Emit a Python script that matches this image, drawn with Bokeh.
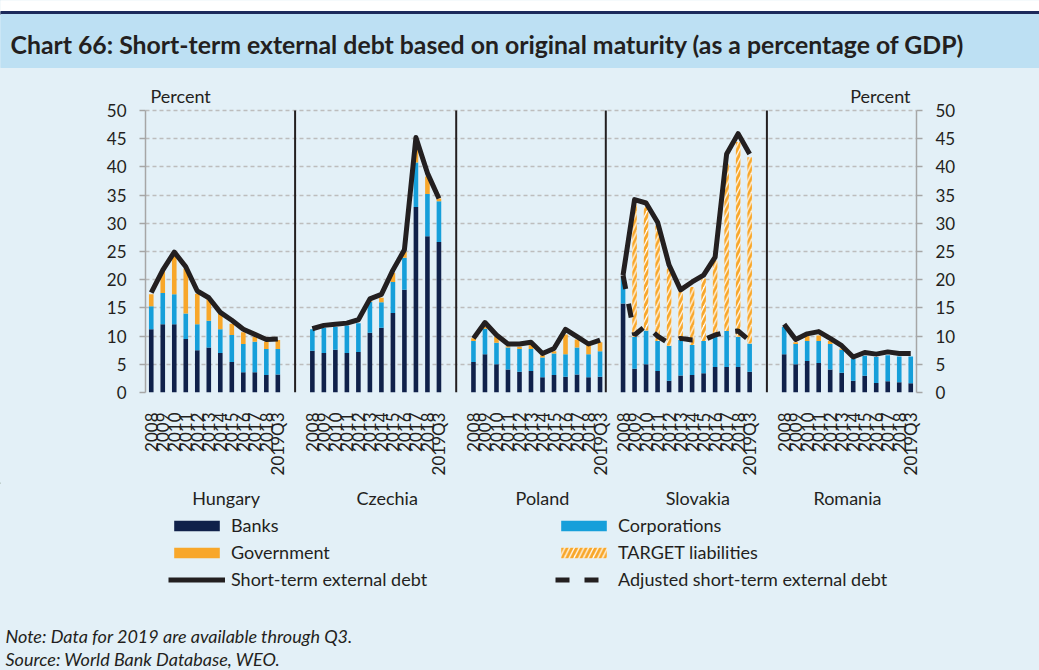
import math
from bokeh.plotting import figure
from bokeh.models import (ColumnDataSource, Range1d, LinearAxis, FixedTicker,
                          Legend, LegendItem)
from bokeh.layouts import column
from bokeh.embed import file_html
from bokeh.resources import INLINE
from bokeh.core.properties import value
from bokeh.transform import stack

# ---------------- data (percent of GDP) ----------------
countries = ["Hungary", "Czechia", "Poland", "Slovakia", "Romania"]
periods = ["2008", "2009", "2010", "2011", "2012", "2013", "2014", "2015",
           "2016", "2017", "2018", "2019Q3"]

banks = [
    [11.2, 12.1, 12.1, 9.5, 7.5, 8.0, 7.0, 5.4, 3.6, 3.6, 3.1, 3.2],        # Hungary
    [7.4, 7.0, 7.6, 7.0, 7.2, 10.6, 11.5, 14.1, 18.2, 32.9, 27.7, 26.7],    # Czechia
    [5.4, 6.8, 5.0, 4.1, 3.7, 3.8, 2.7, 3.1, 2.8, 3.2, 2.7, 2.8],           # Poland
    [15.8, 4.2, 5.0, 3.8, 2.1, 3.0, 3.1, 3.4, 4.5, 4.5, 4.5, 3.7],          # Slovakia
    [6.8, 5.0, 5.6, 5.25, 4.1, 3.5, 2.1, 2.95, 1.7, 2.0, 1.8, 1.65],        # Romania
]
corporations = [
    [4.1, 5.55, 5.3, 4.5, 4.6, 4.7, 4.2, 4.8, 5.0, 5.4, 4.6, 4.5],
    [3.8, 4.5, 4.0, 4.9, 5.1, 5.5, 4.5, 5.5, 5.7, 7.9, 7.5, 7.2],
    [3.75, 4.5, 3.8, 3.9, 4.0, 3.9, 3.5, 3.8, 4.0, 4.8, 4.1, 4.5],
    [4.7, 5.7, 6.0, 5.35, 6.2, 6.3, 5.3, 5.75, 5.4, 6.4, 5.4, 5.0],
    [4.8, 3.6, 3.55, 3.9, 4.5, 4.1, 3.9, 3.55, 4.6, 4.6, 4.6, 4.75],
]
government = [
    [2.1, 4.05, 6.9, 8.0, 5.4, 3.9, 2.7, 2.0, 2.1, 0.9, 1.3, 1.6],
    [0.0, 0.0, 0.0, 0.0, 0.0, 0.4, 0.8, 1.6, 1.0, 3.2, 3.1, 0.5],
    [0.45, 0.3, 1.1, 0.2, 0.4, 0.7, 0.4, 0.4, 3.5, 1.4, 1.6, 1.6],
    [0.0, 0.0, 0.0, 0.0, 0.0, 0.0, 0.0, 0.0, 0.0, 0.0, 0.0, 0.0],
    [0.0, 0.3, 0.85, 0.95, 0.55, 0.2, 0.0, 0.0, 0.0, 0.0, 0.0, 0.0],
]
target_liabilities = [
    [0.0] * 12,
    [0.0] * 12,
    [0.0] * 12,
    [0.0, 23.6, 21.9, 20.45, 13.7, 8.8, 10.3, 11.05, 13.5, 29.7, 34.5, 33.0],
    [0.0] * 12,
]
short_term_debt = [
    [17.7, 21.7, 24.9, 22.3, 18.0, 16.8, 14.2, 12.8, 11.2, 10.3, 9.4, 9.5],
    [11.3, 11.9, 12.1, 12.3, 12.9, 16.6, 17.4, 21.7, 25.3, 45.2, 38.9, 34.4],
    [9.6, 12.4, 10.2, 8.6, 8.6, 8.9, 6.9, 7.8, 11.2, 9.9, 8.6, 9.3],
    [20.8, 34.2, 33.6, 30.2, 22.6, 18.2, 19.6, 20.8, 24.0, 42.3, 45.9, 42.3],
    [12.1, 9.4, 10.4, 10.8, 9.6, 8.3, 6.3, 7.1, 6.8, 7.2, 6.9, 6.9],
]
adjusted_slovakia = [20.8, 10.2, 11.9, 10.0, 8.7, 9.6, 9.3, 9.3, 10.2, 10.7, 10.9, 9.2]

y_ticks = [0, 5, 10, 15, 20, 25, 30, 35, 40, 45, 50]

title_text = "Chart 66: Short-term external debt based on original maturity (as a percentage of GDP)"
note_text = "Note: Data for 2019 are available through Q3."
source_text = "Source: World Bank Database, WEO."
unit_text = "Percent"

# ---------------- layout / style constants ----------------
group_start = [0, 14, 28, 41, 55]          # slot where each country's bars begin
name_offset = [6.5, 6.5, 6.0, 6.5, 5.5]    # country name position inside group
FONT = "Lato"
TXT = "#231f20"
BG = "#e3f0f7"
BANNER = "#bde0f3"
NAVY = "#1c2a5a"
C_BANKS = "#10214a"
C_CORP = "#169fda"
C_GOV = "#f8a72a"
AXIS_GRAY = "#a6a6a6"
W = 1039
H_HEAD, H_MAIN, H_FOOT = 78, 404, 188
FRAME_L, FRAME_R = 145, 916                # frame edges on the page
FRAME_50, FRAME_0 = 110, 392               # page y of the 50 and 0 gridlines
X0, X1 = -0.5, 66.5
Y_TOP = y_ticks[-1] + (FRAME_50 - H_HEAD) * (y_ticks[-1] - y_ticks[0]) / (FRAME_0 - FRAME_50)
PX_PER_Y = (FRAME_0 - FRAME_50) / (y_ticks[-1] - y_ticks[0])
BG_CSS = {"background-color": BG}

def page_x(xdata):
    return FRAME_L + (xdata - X0) * (FRAME_R - FRAME_L) / (X1 - X0)

def data_x(px):
    return X0 + (px - FRAME_L) * (X1 - X0) / (FRAME_R - FRAME_L)

def blank_fig(h):
    f = figure(width=W, height=h, x_range=Range1d(0, W), y_range=Range1d(h, 0),
               toolbar_location=None, output_backend="svg", min_border=0,
               x_axis_location=None, y_axis_location=None, title=None,
               background_fill_color=BG, border_fill_color=BG, outline_line_color=None,
               frame_align=False, styles=BG_CSS)
    f.grid.visible = False
    return f

bank_style = dict(fill_color=C_BANKS, line_color=None)
corp_style = dict(fill_color=C_CORP, line_color=None)
gov_style = dict(fill_color=C_GOV, line_color=None)
target_style = dict(fill_color="white", line_color=None, hatch_pattern="/",
                    hatch_color=C_GOV, hatch_weight=3, hatch_scale=9.5)
line_style = dict(line_color=TXT, line_width=5, line_join="round")
adj_style = dict(line_color=TXT, line_width=5, line_dash="14 15")

# ---------------- header (title banner) ----------------
header = blank_fig(H_HEAD)
header.quad(left=[0], right=[W], top=[0], bottom=[11], color="white")
header.quad(left=[0], right=[W], top=[11], bottom=[14], color=NAVY)
header.quad(left=[0], right=[W], top=[14], bottom=[67], color=BANNER)
header.text(x=[10], y=[43.5], text=[title_text],
            text_font=value(FONT), text_font_style="bold", text_font_size="24.8px",
            text_baseline="middle", text_align="left", text_color=TXT)

# ---------------- main chart ----------------
p = figure(width=W, height=H_MAIN, x_range=Range1d(X0, X1), y_range=Range1d(0, Y_TOP),
           toolbar_location=None, output_backend="svg", title=None, frame_align=False,
           min_border_left=FRAME_L, min_border_right=W - FRAME_R,
           min_border_top=0, min_border_bottom=H_HEAD + H_MAIN - FRAME_0,
           background_fill_color=BG, border_fill_color=BG, outline_line_color=None,
           styles=BG_CSS)

xs, b_col, c_col, g_col, t_col, lab = [], [], [], [], [], {}
for i, c in enumerate(countries):
    for j, per in enumerate(periods):
        x = group_start[i] + j
        xs.append(x)
        b_col.append(banks[i][j])
        c_col.append(corporations[i][j])
        g_col.append(government[i][j])
        t_col.append(target_liabilities[i][j])
        lab[x] = per

src = ColumnDataSource(dict(x=xs, banks=b_col, corp=c_col, gov=g_col, target=t_col))

p.xgrid.visible = False
p.ygrid.grid_line_color = "#bdbdbd"
p.ygrid.grid_line_dash = "4 3"
p.ygrid.grid_line_width = 1.3

seps = [g - 1.5 for g in group_start[1:]]
p.segment(x0=seps, y0=[y_ticks[0]] * len(seps), x1=seps, y1=[y_ticks[-1]] * len(seps),
          line_color=TXT, line_width=2)

BW = 0.4
p.vbar(x="x", bottom=0, top=stack("banks"), width=BW, source=src, **bank_style)
p.vbar(x="x", bottom=stack("banks"), top=stack("banks", "corp"), width=BW, source=src,
       **corp_style)
p.vbar(x="x", bottom=stack("banks", "corp"), top=stack("banks", "corp", "gov"), width=BW,
       source=src, **gov_style)
p.vbar(x="x", bottom=stack("banks", "corp", "gov"),
       top=stack("banks", "corp", "gov", "target"), width=BW, source=src, **target_style)

line_src = ColumnDataSource(dict(
    xs=[[group_start[i] + j for j in range(len(periods))] for i in range(len(countries))],
    ys=short_term_debt))
p.multi_line(xs="xs", ys="ys", source=line_src, **line_style)
sk = countries.index("Slovakia")
p.line(x=[group_start[sk] + j for j in range(len(periods))], y=adjusted_slovakia, **adj_style)

# unit labels above both value axes
unit_y = y_ticks[-1] + (FRAME_50 - 95.5) / PX_PER_Y
p.text(x=[data_x(150), data_x(910)], y=[unit_y, unit_y], text=[unit_text, unit_text],
       text_align=["left", "right"], text_baseline="middle",
       text_font=value(FONT), text_font_size="18px", text_color=TXT)

tick_args = dict(axis_line_color=AXIS_GRAY, axis_line_width=1.5,
                 major_tick_line_color=AXIS_GRAY, major_tick_line_width=1.5,
                 major_tick_out=6, major_tick_in=0, minor_tick_line_color=None,
                 major_label_text_font=FONT, major_label_text_font_size="17px",
                 major_label_text_color=TXT, major_label_standoff=13,
                 bounds=(y_ticks[0], y_ticks[-1]))
ya = p.yaxis[0]
ya.ticker = FixedTicker(ticks=y_ticks)
for k, v in tick_args.items():
    setattr(ya, k, v)
p.add_layout(LinearAxis(ticker=FixedTicker(ticks=y_ticks), **tick_args), "right")

xa = p.xaxis[0]
xa.ticker = FixedTicker(ticks=xs)
xa.major_label_overrides = lab
xa.major_label_orientation = math.pi / 2
xa.axis_line_color = None
xa.major_tick_line_color = None
xa.minor_tick_line_color = None
xa.major_label_standoff = 14
xa.major_label_text_font = FONT
xa.major_label_text_font_size = "17px"
xa.major_label_text_color = TXT

# ---------------- footer: country names, legend, notes ----------------
foot = blank_fig(H_FOOT)
FOOT_TOP = H_HEAD + H_MAIN
name_x = [page_x(group_start[i] + name_offset[i]) for i in range(len(countries))]
foot.text(x=name_x, y=[497 - FOOT_TOP] * len(countries), text=countries,
          text_align="center", text_baseline="middle",
          text_font=value(FONT), text_font_size="18px", text_color=TXT)
foot.text(x=[5, 5], y=[635 - FOOT_TOP, 658 - FOOT_TOP], text=[note_text, source_text],
          text_align="left", text_baseline="middle", text_font=value(FONT),
          text_font_style="italic", text_font_size="18px", text_color=TXT)

# legend glyph renderers (same styles as the chart's; their one point lies off-canvas)
OFF = [-1000]
lg_banks = foot.vbar(x=OFF, bottom=[0], top=[1], width=1, **bank_style)
lg_corp = foot.vbar(x=OFF, bottom=[0], top=[1], width=1, **corp_style)
lg_gov = foot.vbar(x=OFF, bottom=[0], top=[1], width=1, **gov_style)
lg_target = foot.vbar(x=OFF, bottom=[0], top=[1], width=1, **target_style)
lg_line = foot.line(x=[-1000, -999], y=[0, 0], **line_style)
lg_adj = foot.line(x=[-1000, -999], y=[0, 0], **adj_style)

leg_style = dict(background_fill_alpha=0, border_line_color=None, padding=0, margin=0,
                 spacing=5, glyph_width=57, glyph_height=13, label_standoff=6,
                 label_height=13, label_text_font=FONT, label_text_font_size="18px",
                 label_text_color=TXT, label_text_baseline="middle")
leg1 = Legend(items=[LegendItem(label="Banks", renderers=[lg_banks]),
                     LegendItem(label="Government", renderers=[lg_gov]),
                     LegendItem(label="Short-term external debt", renderers=[lg_line])],
              location=(168, 80), **leg_style)
leg2 = Legend(items=[LegendItem(label="Corporations", renderers=[lg_corp]),
                     LegendItem(label="TARGET liabilities", renderers=[lg_target]),
                     LegendItem(label="Adjusted short-term external debt",
                                renderers=[lg_adj])],
              location=(555, 80), **leg_style)
foot.add_layout(leg1)
foot.add_layout(leg2)

page = column(header, p, foot, spacing=0, styles=BG_CSS)
open("out.html", "w").write(file_html(page, INLINE))
